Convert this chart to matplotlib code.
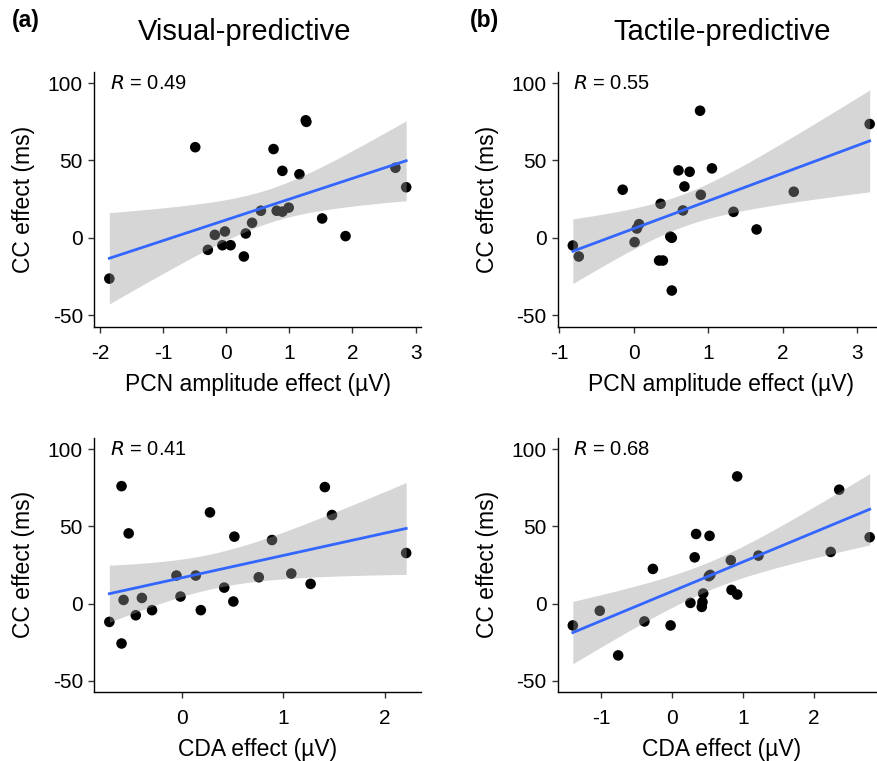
import matplotlib
matplotlib.use('Agg')
import matplotlib.pyplot as plt
import numpy as np

plt.rcParams['font.family'] = ['Liberation Sans', 'DejaVu Sans']

# panel a: visual-predictive, PCN
vis_pcn = [-1.85, -0.49, -0.29, -0.18, -0.02, -0.06, 0.07, 0.28, 0.31, 0.41, 0.55, 0.75,
           0.80, 0.89, 0.99, 0.89, 1.16, 1.26, 1.27, 1.52, 1.89, 2.68, 2.85]
vis_cc_a = [-26.4, 58.6, -7.8, 1.9, 4.1, -4.8, -4.8, -12.1, 2.8, 9.7, 17.5, 57.4,
            17.5, 16.9, 19.5, 43.3, 41.1, 76.0, 75.0, 12.5, 1.1, 45.3, 32.7]

# panel c: visual-predictive, CDA
vis_cda = [-0.71, -0.59, -0.59, -0.57, -0.52, -0.45, -0.39, -0.29, -0.05, -0.01, 0.14, 0.19,
           0.28, 0.42, 0.51, 0.52, 0.76, 0.89, 1.08, 1.27, 1.41, 1.48, 2.21]
vis_cc_c = [-11.9, 76.0, -25.9, 2.3, 45.4, -7.6, 3.6, -4.3, 18.1, 4.5, 18.1, -4.3,
            59.0, 10.3, 1.3, 43.3, 17.0, 41.1, 19.4, 12.7, 75.4, 57.3, 32.7]

# panel b: tactile-predictive, PCN
tac_pcn = [-0.82, -0.74, -0.15, 0.01, 0.04, 0.07, 0.34, 0.39, 0.36, 0.49, 0.51, 0.51,
           0.60, 0.75, 0.68, 0.66, 0.90, 0.89, 1.05, 1.34, 1.65, 2.15, 3.17]
tac_cc_b = [-5.0, -12.1, 31.1, -2.8, 6.0, 8.8, -14.7, -14.7, 22.0, 0.8, 0.0, -34.1,
            43.6, 42.7, 33.2, 17.7, 27.8, 82.2, 44.9, 16.8, 5.4, 29.8, 73.6]

# panel d: tactile-predictive, CDA
tac_cda = [-1.40, -1.02, -0.76, -0.39, -0.27, -0.02, 0.26, 0.32, 0.34, 0.42, 0.43, 0.44,
           0.52, 0.54, 0.53, 0.83, 0.84, 0.92, 0.92, 1.22, 2.24, 2.36, 2.79]
tac_cc_d = [-14.2, -4.7, -33.6, -11.6, 22.4, -14.2, 0.4, 29.9, 45.0, -2.2, 0.9, 6.5,
            17.7, 18.5, 43.8, 28.0, 8.8, 5.8, 82.3, 31.0, 33.4, 73.7, 42.9]

r_labels = ['0.49', '0.55', '0.41', '0.68']
x_labels = ['PCN amplitude effect (\u00b5V)', 'PCN amplitude effect (\u00b5V)',
            'CDA effect (\u00b5V)', 'CDA effect (\u00b5V)']
x_ticks = [[-2, -1, 0, 1, 2, 3], [-1, 0, 1, 2, 3], [0, 1, 2], [-1, 0, 1, 2]]

T_CRIT = {21: 2.0796}  # qt(0.975, df)

fig = plt.figure(figsize=(8.78, 7.61), dpi=100)

W, H = 878, 761
def px_axes(x0, x1, ytop, ybot):
    return fig.add_axes([x0 / W, 1 - ybot / H, (x1 - x0) / W, (ybot - ytop) / H])

axes = [px_axes(94.5, 421, 71.6, 326.7), px_axes(558, 884.5, 71.6, 326.7),
        px_axes(94.5, 421, 437.5, 692.3), px_axes(558, 884.5, 437.5, 692.3)]

data = [(vis_pcn, vis_cc_a), (tac_pcn, tac_cc_b), (vis_cda, vis_cc_c), (tac_cda, tac_cc_d)]

for i, ax in enumerate(axes):
    x = np.array(data[i][0])
    y = np.array(data[i][1])
    n = len(x)
    ax.scatter(x, y, s=58, color='black', edgecolors='none', zorder=2)

    # linear fit with 95% CI band (like geom_smooth(method='lm'))
    b1, b0 = np.polyfit(x, y, 1)
    resid = y - (b0 + b1 * x)
    s = np.sqrt(np.sum(resid ** 2) / (n - 2))
    sxx = np.sum((x - x.mean()) ** 2)
    xs = np.linspace(x.min(), x.max(), 80)
    fit = b0 + b1 * xs
    se = s * np.sqrt(1 / n + (xs - x.mean()) ** 2 / sxx)
    t = T_CRIT.get(n - 2, 2.08)
    ax.fill_between(xs, fit - t * se, fit + t * se, color='#999999', alpha=0.4,
                    linewidth=0, zorder=3)
    ax.plot(xs, fit, color='#3366FF', linewidth=2, zorder=4)

    rng = x.max() - x.min()
    ax.set_xlim(x.min() - 0.05 * rng, x.max() + 0.05 * rng)
    ax.set_ylim(-57.5, 107.5)
    ax.set_yticks([-50, 0, 50, 100])
    ax.set_xticks(x_ticks[i])
    ax.set_xticklabels([str(v) for v in x_ticks[i]])
    ax.set_yticklabels(['-50', '0', '50', '100'])

    for side in ['top', 'right']:
        ax.spines[side].set_visible(False)
    for side in ['left', 'bottom']:
        ax.spines[side].set_linewidth(1.0)
        ax.spines[side].set_color('black')
    ax.tick_params(direction='out', length=4.3, width=1, color='#333333',
                   labelsize=15, labelcolor='black')
    ax.tick_params(axis='x', pad=8)
    ax.tick_params(axis='y', pad=4)

    ax.set_xlabel(x_labels[i], fontsize=16.5, labelpad=7)
    ax.set_ylabel('CC effect (ms)', fontsize=16.5, labelpad=9)
    ax.text(0.047, 100, '$R$ = ' + r_labels[i], transform=ax.get_yaxis_transform(),
            fontsize=14.5, va='center', ha='left')

fig.text(245 / W, 1 - 32 / H, 'Visual-predictive', fontsize=21, ha='center', va='center')
fig.text(722 / W, 1 - 32 / H, 'Tactile-predictive', fontsize=21, ha='center', va='center')
fig.text(12 / W, 1 - 21 / H, '(a)', fontsize=16.5, fontweight='bold', ha='left', va='center')
fig.text(470 / W, 1 - 21 / H, '(b)', fontsize=16.5, fontweight='bold', ha='left', va='center')

fig.savefig('out.png', dpi=100)
